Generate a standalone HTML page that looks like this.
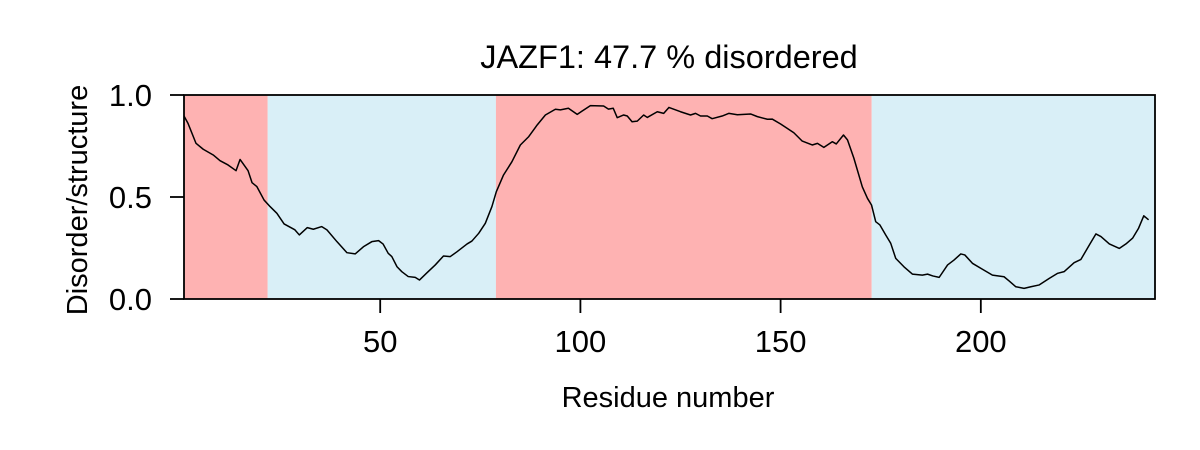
<!DOCTYPE html>
<html><head><meta charset="utf-8"><style>
html,body{margin:0;padding:0;background:#fff;}
svg{display:block;font-family:"Liberation Sans",Arial,sans-serif;}
</style></head><body>
<svg id="chart" width="1200" height="450" viewBox="0 0 1200 450" xmlns="http://www.w3.org/2000/svg">
<rect width="1200" height="450" fill="#fff"/>
<g id="bg"></g>
<polyline id="line" fill="none" stroke="#000" stroke-width="1.5" stroke-linejoin="round"/>
<rect x="184" y="95" width="971" height="204" fill="none" stroke="#000" stroke-width="1.8"/>
<g id="axes"></g>
<text x="669" y="68" text-anchor="middle" font-size="32.5">JAZF1: 47.7 % disordered</text>
<text x="668" y="407" text-anchor="middle" font-size="29">Residue number</text>
<text transform="translate(87,200) rotate(-90)" text-anchor="middle" font-size="29">Disorder/structure</text>
</svg>
<script>
const residues=[1,2,4,5.8,8.3,10,12,14,15,17,18,19.2,21,22.5,24.2,26,28.7,29.8,31.8,33.3,35.4,36.7,39.2,41.7,43.75,45.8,47.9,49.6,50.7,52,52.9,54.2,55.4,57,58.75,59.8,61.7,63.75,65.8,67.5,69.2,71.7,72.9,74.6,76.25,77.9,79,80.8,82.9,85,87.1,89.2,91.25,93.75,95,97,99.2,100.4,102.5,105.8,107,108.2,109.2,110.8,111.7,112.9,114.2,115.8,116.7,119.2,120.8,122.1,125,127.5,128.75,130,131.7,132.9,135.4,137.1,139.2,142.5,144.2,146.7,147.9,150,153.3,155.4,157.9,159.2,160.8,162.9,163.9,165.7,166.7,168.3,170.4,171.7,172.7,173.75,174.8,176.25,177.5,178.75,180.8,182.9,185.4,186.7,188,189.6,191.7,193.3,195,196,197.9,200.4,202.9,205.8,207.1,208.75,210.8,212.5,214.6,217.1,219.2,220.8,223.3,225,227.1,228.75,230,232.1,234.6,236.25,237.9,239.4,240.7,241.9];
const disorder=[0.897,0.861,0.763,0.734,0.706,0.678,0.657,0.629,0.684,0.629,0.570,0.551,0.485,0.453,0.420,0.368,0.339,0.314,0.350,0.342,0.355,0.339,0.281,0.227,0.221,0.256,0.281,0.286,0.270,0.224,0.208,0.158,0.134,0.110,0.106,0.093,0.129,0.167,0.211,0.208,0.232,0.270,0.284,0.322,0.371,0.453,0.526,0.608,0.673,0.755,0.796,0.853,0.902,0.930,0.927,0.935,0.905,0.921,0.948,0.946,0.931,0.935,0.889,0.902,0.897,0.869,0.872,0.902,0.890,0.918,0.910,0.939,0.918,0.902,0.910,0.897,0.897,0.884,0.897,0.910,0.903,0.907,0.894,0.881,0.882,0.858,0.815,0.774,0.755,0.763,0.743,0.771,0.760,0.804,0.780,0.690,0.550,0.493,0.461,0.379,0.363,0.314,0.273,0.199,0.158,0.122,0.117,0.122,0.113,0.106,0.167,0.191,0.221,0.216,0.175,0.146,0.117,0.109,0.088,0.060,0.052,0.060,0.069,0.101,0.126,0.134,0.178,0.194,0.265,0.319,0.306,0.270,0.248,0.270,0.298,0.347,0.408,0.388];
const regionStarts=[1,21.9,78.9,172.75];
const regionEnds=[21.9,78.9,172.75,243.5];
const regionTypes=["disordered","ordered","disordered","ordered"];
const xTicks=[50,100,150,200];
const yTicks=[0,0.5,1];
const yTickLabels=["0.0","0.5","1.0"];
const X0=184,X1=1155,Y0=299,Y1=95,XMIN=1,XMAX=243.5;
const sx=v=>X0+(v-XMIN)/(XMAX-XMIN)*(X1-X0);
const sy=v=>Y0-v*(Y0-Y1);
const NS="http://www.w3.org/2000/svg";
const bg=document.getElementById('bg');
regionStarts.forEach((s,i)=>{
  const r=document.createElementNS(NS,'rect');
  r.setAttribute('x',sx(s));r.setAttribute('y',Y1);
  r.setAttribute('width',sx(regionEnds[i])-sx(s));r.setAttribute('height',Y0-Y1);
  r.setAttribute('fill',regionTypes[i]==="disordered"?"#feb2b2":"#d9eff7");
  
  
  bg.appendChild(r);
});
document.getElementById('line').setAttribute('points',residues.map((r,i)=>sx(r)+','+sy(disorder[i])).join(' '));
const ax=document.getElementById('axes');
xTicks.forEach(t=>{
  const l=document.createElementNS(NS,'line');
  l.setAttribute('x1',sx(t));l.setAttribute('x2',sx(t));l.setAttribute('y1',Y0);l.setAttribute('y2',Y0+14);
  l.setAttribute('stroke','#000');l.setAttribute('stroke-width','1.8');
  
  
  ax.appendChild(l);
  const tx=document.createElementNS(NS,'text');
  tx.setAttribute('x',sx(t));tx.setAttribute('y',352);tx.setAttribute('text-anchor','middle');tx.setAttribute('font-size','31');
  tx.textContent=t;
  
  
  ax.appendChild(tx);
});
yTicks.forEach((t,i)=>{
  const l=document.createElementNS(NS,'line');
  l.setAttribute('x1',X0-14);l.setAttribute('x2',X0);l.setAttribute('y1',sy(t));l.setAttribute('y2',sy(t));
  l.setAttribute('stroke','#000');l.setAttribute('stroke-width','1.8');
  
  
  ax.appendChild(l);
  const tx=document.createElementNS(NS,'text');
  tx.setAttribute('x',152);tx.setAttribute('y',sy(t)+11);tx.setAttribute('text-anchor','end');tx.setAttribute('font-size','31');
  tx.textContent=yTickLabels[i];
  
  
  ax.appendChild(tx);
});
</script>
</body></html>
